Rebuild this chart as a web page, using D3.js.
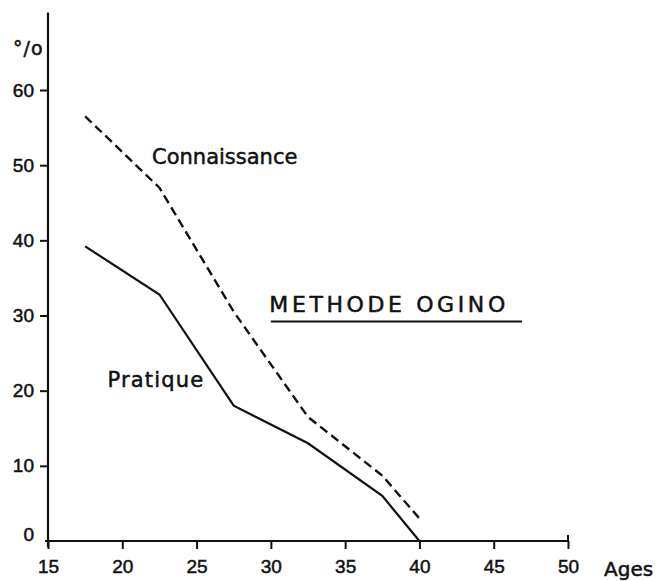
<!DOCTYPE html>
<html>
<head>
<meta charset="utf-8">
<script src="https://cdn.jsdelivr.net/npm/d3@7"></script>
<style>
  body { margin: 0; background: #fff; }
  svg { display: block; font-family: "DejaVu Sans", sans-serif; }
  .tick text { font-size: 19px; fill: #111; stroke: #111; stroke-width: 0.5px; }
  .label { font-size: 21px; fill: #111; stroke: #111; stroke-width: 0.5px; }
</style>
</head>
<body>
<div id="chart"></div>
<script>
// values (ages on x, % on y)
const ages = [17.5, 22.5, 27.5, 32.5, 37.5, 40];
const connaissance = [56.5, 47, 30.5, 16.5, 8.7, 3];
const pratique = [39.2, 32.8, 18, 13, 6, 0];
const xTicks = [15, 20, 25, 30, 35, 40, 45, 50];
const yTicks = [0, 10, 20, 30, 40, 50, 60];

const width = 658, height = 581;

const svg = d3.select("#chart")
    .append("svg")
    .attr("width", width)
    .attr("height", height);

const x = d3.scaleLinear().domain([15, 50]).range([48, 568]);
const y = d3.scaleLinear().domain([0, 60]).range([541, 90]);

// axes (domain lines drawn by hand so they can overrun like the original)
const xAxis = svg.append("g")
    .attr("transform", `translate(0, ${y(0)})`)
    .call(d3.axisBottom(x).tickValues(xTicks).tickSize(8).tickPadding(11));
xAxis.select(".domain").remove();
xAxis.selectAll("line").attr("stroke", "#111").attr("stroke-width", 2);

const yAxis = svg.append("g")
    .attr("transform", `translate(${x(15)}, 0)`)
    .call(d3.axisLeft(y).tickValues(yTicks).tickSize(8).tickPadding(6));
yAxis.select(".domain").remove();
yAxis.selectAll("line").attr("stroke", "#111").attr("stroke-width", 2);
yAxis.selectAll(".tick").filter(d => d === 0).select("text").attr("dy", "-0.05em");
yAxis.selectAll(".tick").filter(d => d === 0).select("line").remove();

svg.append("line")
    .attr("x1", x(15)).attr("x2", x(15))
    .attr("y1", y(70.3)).attr("y2", y(-0.8))
    .attr("stroke", "#111").attr("stroke-width", 2.2);

svg.append("line")
    .attr("x1", x(14.8)).attr("x2", x(50))
    .attr("y1", y(0)).attr("y2", y(0))
    .attr("stroke", "#111").attr("stroke-width", 2.2);

// little upward tick closing the age axis at 50
svg.append("line")
    .attr("x1", x(50)).attr("x2", x(50))
    .attr("y1", y(0) - 6).attr("y2", y(0))
    .attr("stroke", "#111").attr("stroke-width", 2);

// axis titles
svg.append("text")
    .attr("class", "label")
    .attr("x", 13).attr("y", 55)
    .style("font-size", "19px")
    .style("letter-spacing", "1px")
    .text("°/o");

svg.append("text")
    .attr("class", "label")
    .attr("x", 604).attr("y", 576)
    .style("font-size", "20px")
    .text("Ages");

// curves
const line = d3.line()
    .x(d => x(d[0]))
    .y(d => y(d[1]));

svg.append("path")
    .datum(d3.zip(ages, connaissance))
    .attr("d", line)
    .attr("fill", "none")
    .attr("stroke", "#111")
    .attr("stroke-width", 2.4)
    .attr("stroke-dasharray", "9,5");

svg.append("path")
    .datum(d3.zip(ages, pratique))
    .attr("d", line)
    .attr("fill", "none")
    .attr("stroke", "#111")
    .attr("stroke-width", 2.2);

// annotations
svg.append("text")
    .attr("class", "label")
    .attr("x", x(22)).attr("y", y(50.1))
    .text("Connaissance");

svg.append("text")
    .attr("class", "label")
    .attr("x", x(19)).attr("y", y(20.5))
    .style("letter-spacing", "1.2px")
    .text("Pratique");

svg.append("text")
    .attr("class", "label")
    .attr("x", x(29.9)).attr("y", y(30.4))
    .style("font-size", "22px")
    .style("letter-spacing", "3.6px")
    .text("METHODE OGINO");

svg.append("line")
    .attr("x1", x(30)).attr("x2", x(46.9))
    .attr("y1", y(29.2)).attr("y2", y(29.2))
    .attr("stroke", "#111").attr("stroke-width", 2);
</script>
</body>
</html>
